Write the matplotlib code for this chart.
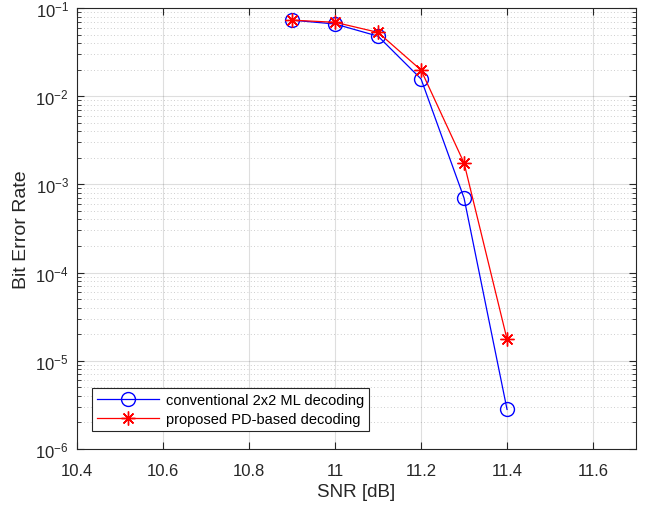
import matplotlib
matplotlib.use('Agg')
import matplotlib.pyplot as plt
from matplotlib.ticker import LogLocator, NullFormatter

plt.rcParams['font.family'] = ['Liberation Sans', 'DejaVu Sans']
plt.rcParams['mathtext.fontset'] = 'custom'
plt.rcParams['mathtext.rm'] = 'Liberation Sans'
plt.rcParams['mathtext.default'] = 'rm'

snr = [10.9, 11.0, 11.1, 11.2, 11.3, 11.4]
ber_ml = [0.073, 0.066, 0.048, 0.0157, 7.0e-4, 2.8e-6]
ber_pd = [0.073, 0.069, 0.053, 0.0198, 1.75e-3, 1.75e-5]
xticks = [10.4, 10.6, 10.8, 11.0, 11.2, 11.4, 11.6]
xticklabels = ['10.4', '10.6', '10.8', '11', '11.2', '11.4', '11.6']

fig = plt.figure(figsize=(6.46, 5.06), dpi=100)
ax = fig.add_axes([0.1195, 0.111, 0.865, 0.871])

ax.semilogy(snr, ber_ml, '-o', color='#0000ff', lw=0.9, ms=10, mfc='none', mew=1.0,
            label='conventional 2x2 ML decoding')
ax.semilogy(snr, ber_pd, '-', color='#ff0000', lw=0.9, marker=(8, 2, 0), ms=10, mew=1.0,
            label='proposed PD-based decoding')

ax.set_xlim(10.4, 11.7)
ax.set_ylim(1e-6, 1e-1)
ax.set_xticks(xticks)
ax.set_xticklabels(xticklabels)
ax.yaxis.set_major_locator(LogLocator(base=10, numticks=10))
ax.yaxis.set_minor_locator(LogLocator(base=10, subs=range(2, 10), numticks=20))
ax.yaxis.set_minor_formatter(NullFormatter())

ax.grid(True, which='major', color='#262626', alpha=0.15, lw=0.8)
ax.grid(True, which='minor', axis='y', color='#262626', alpha=0.3, lw=0.6, ls=(0, (1, 3)))
ax.tick_params(which='both', direction='in', top=True, right=True, labelsize=12,
               color='#262626', labelcolor='#262626')
ax.tick_params(which='major', length=5)
ax.tick_params(axis='x', which='major', pad=10)
ax.tick_params(axis='y', which='major', pad=6)
ax.tick_params(which='minor', length=3)
for s in ax.spines.values():
    s.set_color('#262626')
    s.set_linewidth(0.8)

ax.set_xlabel('SNR [dB]', fontsize=13.5, color='#262626', labelpad=4)
ax.set_ylabel('Bit Error Rate', fontsize=14, color='#262626', labelpad=4)

leg = ax.legend(loc='lower left', bbox_to_anchor=(0.027, 0.04), fontsize=10.5,
                handlelength=4.2, fancybox=False, framealpha=1, borderpad=0.35,
                labelspacing=0.35, handletextpad=0.5, borderaxespad=0)
leg.get_frame().set_edgecolor('#262626')
leg.get_frame().set_linewidth(0.8)

fig.savefig('out.png', dpi=100)
